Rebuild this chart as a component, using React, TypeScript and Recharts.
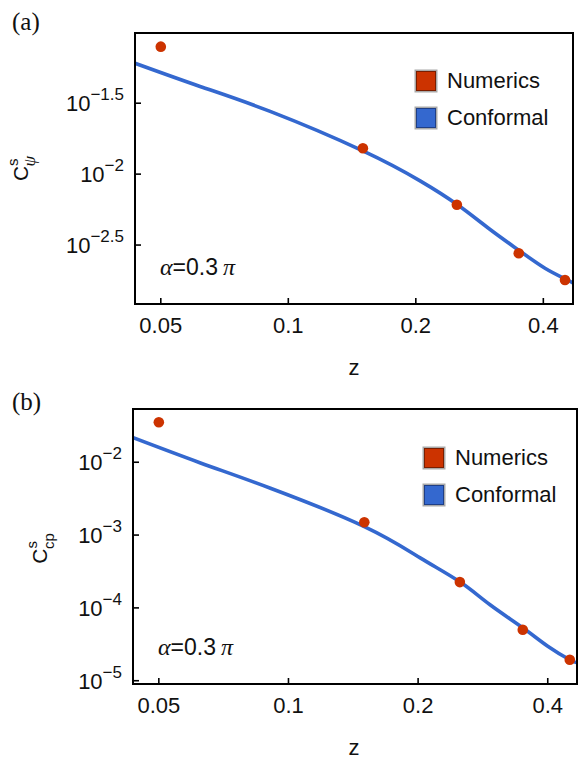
import React from 'react';
import { ComposedChart, Line, Scatter, XAxis, YAxis, Legend } from 'recharts';

const SANS = "'Liberation Sans', Arial, Helvetica, sans-serif";
const SERIF = "'Liberation Serif', 'DejaVu Serif', serif";
const RED = '#cc3300';
const BLUE = '#3468cf';

// numerics, same z for both panels
const zNumerics = [0.05, 0.15, 0.25, 0.35, 0.45];
const psiNumerics = [0.0792, 0.01524, 0.00608, 0.002766, 0.001793];
const cpNumerics = [0.03538, 0.001503, 0.0002259, 0.0000501, 0.0000194];

// conformal curves
const psiCurveZ = [0.04346, 0.0619, 0.0906, 0.15, 0.2047, 0.25, 0.299, 0.35, 0.4036, 0.45, 0.47];
const psiConformal = [0.06047, 0.04152, 0.02769, 0.01459, 0.00897, 0.006127, 0.004086, 0.002906, 0.002171, 0.001831, 0.001708];
const cpCurveZ = [0.04355, 0.06247, 0.09081, 0.15, 0.2022, 0.25, 0.2938, 0.35, 0.4, 0.45, 0.4677];
const cpConformal = [0.02175, 0.009781, 0.004398, 0.001308, 0.0004867, 0.000228, 0.0001103, 0.00005333, 0.00002974, 0.00001941, 0.00001766];

const zTicks = [0.05, 0.1, 0.2, 0.4];
const psiTicks = [0.0316228, 0.01, 0.00316228];
const cpTicks = [0.01, 0.001, 0.0001, 0.00001];

const legendItems = [
  { name: 'Numerics', fill: RED, edge: '#7a1e00' },
  { name: 'Conformal', fill: BLUE, edge: '#1f3f86' },
];

const toRows = (xs: number[], ys: number[]) => xs.map((x, i) => ({ x, y: ys[i] }));

const expLabel = (v: number) => {
  const e = Math.round(Math.log10(v) * 10) / 10;
  return '\u2212' + Math.abs(e);
};

const XTick = (props: any) => {
  const { x, y, payload } = props;
  return (
    <g>
      <line x1={x} x2={x} y1={y} y2={y - 6} stroke="#000" strokeWidth={1.6} />
      <text x={x} y={y + 29} textAnchor="middle" fontFamily={SANS} fontSize={22} fill="#111">
        {payload.value}
      </text>
    </g>
  );
};

const YTick = (props: any) => {
  const { x, y, payload } = props;
  return (
    <g>
      <line x1={x + 11} x2={x + 17} y1={y} y2={y} stroke="#000" strokeWidth={1.6} />
      <text x={x} y={y + 8} textAnchor="end" fontFamily={SANS} fontSize={22} fill="#111">
        10
        <tspan fontSize={17} dy={-11}>{expLabel(payload.value)}</tspan>
      </text>
    </g>
  );
};

const Dot = (props: any) => <circle cx={props.cx} cy={props.cy} r={5.3} fill={RED} />;

const LegendBox = () => (
  <div style={{ fontFamily: SANS, fontSize: 22, color: '#111' }}>
    {legendItems.map((it) => (
      <div key={it.name} style={{ display: 'flex', alignItems: 'center', height: 36.5 }}>
        <div
          style={{
            width: 18,
            height: 18,
            background: it.fill,
            border: `1px solid ${it.edge}`,
            boxShadow: '0 0 0 1.5px #a9a9a9',
            marginRight: 11,
          }}
        />
        <span>{it.name}</span>
      </div>
    ))}
  </div>
);

interface PanelProps {
  tag: string;
  sub: string;
  subItalic: boolean;
  titleX: number;
  numerics: number[];
  curveZ: number[];
  conformal: number[];
  xDomain: [number, number];
  yDomain: [number, number];
  yTicks: number[];
  top: number;
  right: number;
  yWidth: number;
  legendLeft: number;
  legendTop: number;
  alphaX: number;
}

const PLOT_BOTTOM = 304;

const Panel = (p: PanelProps) => {
  const pts = toRows(zNumerics, p.numerics);
  const curve = toRows(p.curveZ, p.conformal);
  const decor = () => (
    <g>
      <rect
        x={p.yWidth}
        y={p.top}
        width={579 - p.right - p.yWidth}
        height={PLOT_BOTTOM - p.top}
        fill="none"
        stroke="#000"
        strokeWidth={2}
      />
      <text x={12} y={30} fontFamily={SERIF} fontSize={25} fill="#111">{p.tag}</text>
      <text
        transform={`translate(${p.titleX},168.5) rotate(-90)`}
        textAnchor="middle"
        fontFamily={SANS}
        fontSize={21}
        fill="#111"
      >
        C
        <tspan fontSize={15} dy={-10}>s</tspan>
        <tspan
          fontSize={p.subItalic ? 17 : 15}
          dx={-8}
          dy={17}
          fontFamily={p.subItalic ? SERIF : SANS}
          fontStyle={p.subItalic ? 'italic' : 'normal'}
        >
          {p.sub}
        </tspan>
      </text>
      <text x={p.alphaX} y={275} fontSize={24} fill="#111">
        <tspan fontFamily={SERIF} fontStyle="italic">α</tspan>
        <tspan fontFamily={SANS} fontSize={23}>=0.3</tspan>
        <tspan fontFamily={SERIF} fontStyle="italic" dx={5}>π</tspan>
      </text>
    </g>
  );
  return (
    <ComposedChart width={579} height={380} margin={{ top: p.top, right: p.right, bottom: 0, left: 0 }}>
      <XAxis
        dataKey="x"
        type="number"
        scale="log"
        domain={p.xDomain}
        allowDataOverflow
        ticks={zTicks}
        tick={<XTick />}
        tickSize={0}
        tickMargin={0}
        height={380 - PLOT_BOTTOM}
        axisLine={{ stroke: '#000', strokeWidth: 2 }}
        tickLine={false}
        label={() => (
          <text x={354} y={375} textAnchor="middle" fontFamily={SANS} fontSize={22} fill="#111">z</text>
        )}
      />
      <YAxis
        dataKey="y"
        type="number"
        scale="log"
        domain={p.yDomain}
        allowDataOverflow
        ticks={p.yTicks}
        tick={<YTick />}
        tickSize={0}
        tickMargin={11}
        width={p.yWidth}
        axisLine={{ stroke: '#000', strokeWidth: 2 }}
        tickLine={false}
        label={decor}
      />
      <Legend
        layout="vertical"
        align="center"
        verticalAlign="middle"
        content={<LegendBox />}
        wrapperStyle={{ left: p.legendLeft, top: p.legendTop, width: 160 }}
      />
      <Scatter data={pts} dataKey="y" name="Numerics" shape={<Dot />} isAnimationActive={false} />
      <Line
        data={curve}
        dataKey="y"
        name="Conformal"
        type="natural"
        stroke={BLUE}
        strokeWidth={3.6}
        dot={false}
        activeDot={false}
        isAnimationActive={false}
      />
    </ComposedChart>
  );
};

export default function App() {
  return (
    <div style={{ position: 'absolute', left: 0, top: 0, width: 579, height: 760, background: '#fff' }}>
      <Panel
        tag="(a)"
        sub="ψ"
        subItalic
        titleX={28}
        numerics={psiNumerics}
        curveZ={psiCurveZ}
        conformal={psiConformal}
        xDomain={[0.04346, 0.47]}
        yDomain={[0.0012145, 0.098855]}
        yTicks={psiTicks}
        top={33}
        right={6}
        yWidth={135}
        legendLeft={416}
        legendTop={63}
        alphaX={160}
      />
      <Panel
        tag="(b)"
        sub="cp"
        subItalic={false}
        titleX={47}
        numerics={cpNumerics}
        curveZ={cpCurveZ}
        conformal={cpConformal}
        xDomain={[0.04355, 0.4677]}
        yDomain={[0.000009016, 0.05383]}
        yTicks={cpTicks}
        top={29}
        right={2}
        yWidth={133}
        legendLeft={424}
        legendTop={60}
        alphaX={158}
      />
    </div>
  );
}
